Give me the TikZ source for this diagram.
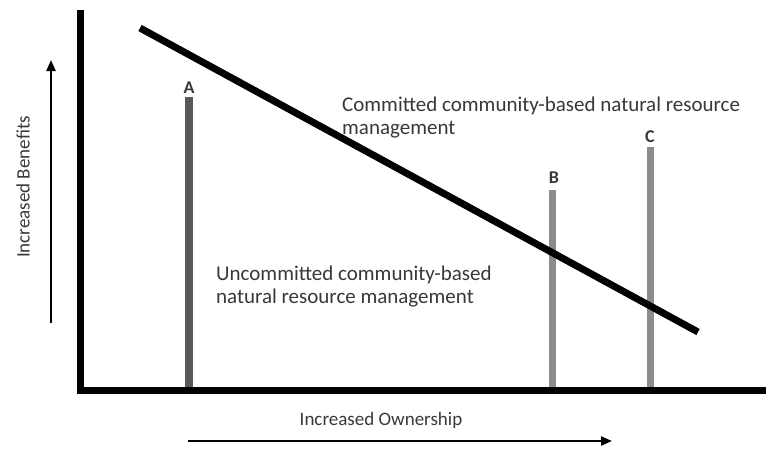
\documentclass[tikz,border=0pt]{standalone}
\usepackage{fontspec}
\setmainfont{Carlito}
\usetikzlibrary{arrows.meta}

\begin{document}
\begin{tikzpicture}[x=1pt, y=-1pt, every node/.style={text=black!78, inner sep=0pt},
    axisline/.style={line width=7pt, line join=miter},
    barA/.style={line width=8pt, draw=black!65},
    barBC/.style={line width=7pt, draw=black!45},
    dirarrow/.style={line width=2.2pt, -{Triangle[length=11pt, width=9pt]}},
    region/.style={font=\fontsize{21}{23}\selectfont, align=left, anchor=north west},
    axislabel/.style={font=\fontsize{19}{22}\selectfont},
    barlabel/.style={font=\fontsize{18}{20}\selectfont\bfseries}]
    \useasboundingbox (0,0) rectangle (766,448);
    % axes
    \draw[axisline] (80,10) -- (80,390) -- (766,390);
    % bars
    \node[barlabel] (labA) at (189,88) {A};
    \node[barlabel] (labB) at (554,178) {B};
    \node[barlabel] (labC) at (650,137) {C};
    \coordinate (topA) at (189,97);
    \coordinate (topB) at (552,190);
    \coordinate (topC) at (650,147);
    \draw[barA] (topA) -- (topA |- 0,387);
    \draw[barBC] (topB) -- (topB |- 0,387);
    \draw[barBC] (topC) -- (topC |- 0,387);
    % dividing line
    \draw[line width=7pt] (140,28) -- (698,332);
    % region texts
    \node[region] (committed) at (342,97) {Committed community-based natural resource\\management};
    \node[region] (uncommitted) at (216,266) {Uncommitted community-based\\natural resource management};
    % direction arrows
    \coordinate (benStart) at (51,323);
    \coordinate (benEnd) at (51,60);
    \coordinate (ownStart) at (188,441);
    \coordinate (ownEnd) at (612,441);
    \draw[dirarrow] (benStart) -- (benEnd);
    \draw[dirarrow] (ownStart) -- (ownEnd);
    \node[axislabel, rotate=90] (benefits) at (23,187) {Increased Benefits};
    \node[axislabel] (ownership) at (381,420) {Increased Ownership};
\end{tikzpicture}
\end{document}
